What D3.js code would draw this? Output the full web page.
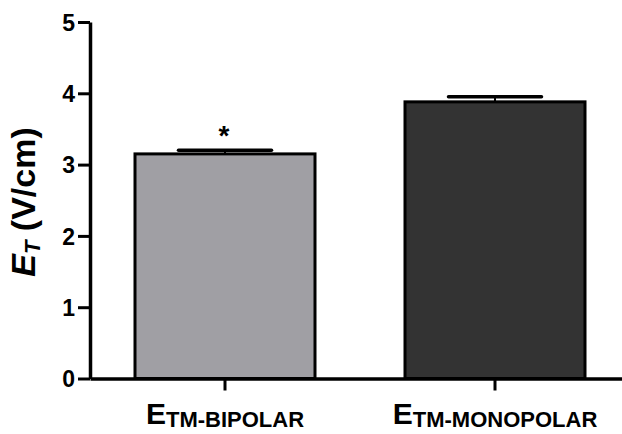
<!DOCTYPE html>
<html>
<head>
<meta charset="utf-8">
<script src="https://cdn.jsdelivr.net/npm/d3@7"></script>
<style>
  body { margin: 0; background: #fff; }
  text { font-family: 'Liberation Sans', Arial, sans-serif; font-weight: bold; }
</style>
</head>
<body>
<script>
// data
var categories = ['TM-BIPOLAR', 'TM-MONOPOLAR'];
var means = [3.15, 3.88];
var sems = [0.05, 0.07];
var fills = ['#a09fa4', '#333333'];
var marks = ['*', ''];
var yTicks = [0, 1, 2, 3, 4, 5];

var W = 622, H = 434;

var svg = d3.select('body').append('svg')
  .attr('width', W)
  .attr('height', H);

var x = d3.scaleBand()
  .domain(categories)
  .range([90, 630])
  .paddingInner(1 / 3)
  .paddingOuter(1 / 6);

var y = d3.scaleLinear()
  .domain([0, 5])
  .range([378.5, 22]);

// bars
svg.selectAll('rect.bar')
  .data(categories)
  .enter()
  .append('rect')
  .attr('class', 'bar')
  .attr('x', function(d) { return x(d); })
  .attr('y', function(d, i) { return y(means[i]); })
  .attr('width', x.bandwidth())
  .attr('height', function(d, i) { return y(0) - y(means[i]); })
  .attr('fill', function(d, i) { return fills[i]; })
  .attr('stroke', '#000')
  .attr('stroke-width', 3);

// error bars (upper only)
var capW = 93;
categories.forEach(function(c, i) {
  var cx = x(c) + x.bandwidth() / 2;
  svg.append('line')
    .attr('x1', cx).attr('x2', cx)
    .attr('y1', y(means[i])).attr('y2', y(means[i] + sems[i]))
    .attr('stroke', '#000').attr('stroke-width', 2);
  svg.append('line')
    .attr('x1', cx - capW / 2).attr('x2', cx + capW / 2)
    .attr('y1', y(means[i] + sems[i])).attr('y2', y(means[i] + sems[i]))
    .attr('stroke', '#000').attr('stroke-width', 3.5)
    .attr('stroke-linecap', 'round');
  if (marks[i]) {
    svg.append('text')
      .attr('x', cx - 1)
      .attr('y', y(means[i] + sems[i]) - 5)
      .attr('text-anchor', 'middle')
      .style('font-size', '28px')
      .text(marks[i]);
  }
});

// y axis
var yAxis = d3.axisLeft(y)
  .tickValues(yTicks)
  .tickFormat(d3.format('d'))
  .tickSize(12)
  .tickSizeOuter(0)
  .tickPadding(3);

var gy = svg.append('g')
  .attr('transform', 'translate(90,0)')
  .call(yAxis);
gy.select('.domain').attr('stroke-width', 3.5);
gy.selectAll('.tick line').attr('stroke-width', 3);
gy.selectAll('.tick text')
  .style('font-size', '23px')
  .style('font-weight', 'bold')
  .attr('dy', '0.36em')
  .attr('fill', '#000');

// x axis
var xAxis = d3.axisBottom(x)
  .tickSize(12)
  .tickSizeOuter(0)
  .tickFormat('');

var gx = svg.append('g')
  .attr('transform', 'translate(0,' + y(0) + ')')
  .call(xAxis);
gx.select('.domain').attr('stroke-width', 3.5);
gx.selectAll('.tick line').attr('stroke-width', 3);

// category labels
categories.forEach(function(c) {
  var t = svg.append('text')
    .attr('x', x(c) + x.bandwidth() / 2)
    .attr('y', 424)
    .attr('text-anchor', 'middle');
  t.append('tspan').style('font-size', '30px').text('E');
  t.append('tspan').style('font-size', '22px').attr('dy', 3).text(c);
});

// y label
var yl = svg.append('text')
  .attr('transform', 'translate(35,202) rotate(-90)')
  .attr('text-anchor', 'middle');
yl.append('tspan').style('font-size', '34px').style('font-style', 'italic').text('E');
yl.append('tspan').style('font-size', '22px').style('font-style', 'italic').attr('dy', 5).text('T');
yl.append('tspan').style('font-size', '34px').attr('dy', -5).text(' (V/cm)');
</script>
</body>
</html>
